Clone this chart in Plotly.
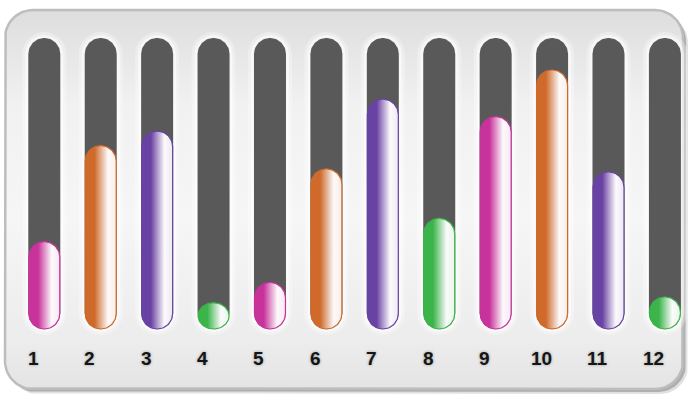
import numpy as np
import plotly.graph_objects as go

# ---- data -------------------------------------------------------------
categories = ["1", "2", "3", "4", "5", "6", "7", "8", "9", "10", "11", "12"]
values = [30, 63, 68, 9, 16, 55, 79, 38, 73, 89, 54, 11]   # percent of full track
max_value = 100
palette = ["#C8329B", "#CF6A2B", "#6943A3", "#3BB44A"]      # cycles over the bars

# ---- layout geometry (pixels) ----------------------------------------
W, H = 691, 394
X0, STEP = 44.3, 56.42         # centre of first slot, slot pitch
BASE_PX, TOP_PX = 329.0, 38.0  # value 0 and value max_value
HALF_W = 16.0                  # half width of track / bar
PPU = (BASE_PX - TOP_PX) / max_value

xr0 = 1 - X0 / STEP
xr1 = xr0 + W / STEP
yr0 = -(H - BASE_PX) / PPU
yr1 = BASE_PX / PPU


def px2x(p):
    return xr0 + p / STEP


def py2y(p):
    return yr1 - p / PPU


def stadium(cx, y0, y1, half_px, n=40):
    """Closed outline of a vertical pill from y0 to y1 (data units)."""
    rx = half_px / STEP
    ry_full = half_px / PPU
    ry = min(ry_full, (y1 - y0) / 2)
    t_top = np.linspace(0, np.pi, n)
    t_bot = np.linspace(np.pi, 2 * np.pi, n)
    xs = np.concatenate([cx + rx * np.cos(t_top), cx + rx * np.cos(t_bot)])
    ys = np.concatenate([y1 - ry + ry * np.sin(t_top), y0 + ry + ry * np.sin(t_bot)])
    return np.append(xs, xs[0]), np.append(ys, ys[0])


def round_rect(x0p, y0p, x1p, y1p, r, n=16):
    """Rounded rectangle given in pixels, returned in data units."""
    pts = []
    corners = [(x1p - r, y0p + r, -np.pi / 2, 0),
               (x1p - r, y1p - r, 0, np.pi / 2),
               (x0p + r, y1p - r, np.pi / 2, np.pi),
               (x0p + r, y0p + r, np.pi, 1.5 * np.pi)]
    for cxp, cyp, a0, a1 in corners:
        for a in np.linspace(a0, a1, n):
            pts.append((cxp + r * np.cos(a), cyp + r * np.sin(a)))
    pts.append(pts[0])
    xs = [px2x(p[0]) for p in pts]
    ys = [py2y(p[1]) for p in pts]
    return xs, ys


def mix(hex_color, other, t):
    a = np.array([int(hex_color[i:i + 2], 16) for i in (1, 3, 5)], float)
    b = np.array(other, float)
    c = a * (1 - t) + b * t
    return "rgb(%d,%d,%d)" % tuple(np.round(c))


fig = go.Figure()

# ---- panel ------------------------------------------------------------
for off, alpha in [(5, 0.12), (3, 0.22)]:
    sx, sy = round_rect(5 + off, 10 + off, 683 + off, 389 + off, 28)
    fig.add_trace(go.Scatter(x=sx, y=sy, mode="lines", fill="toself",
                             fillcolor="rgba(0,0,0,%.2f)" % alpha,
                             line=dict(width=0), hoverinfo="skip"))

px_, py_ = round_rect(5, 10, 683, 389, 28)
fig.add_trace(go.Scatter(
    x=px_, y=py_, mode="lines", fill="toself",
    fillgradient=dict(type="vertical",
                      colorscale=[[0, "#E4E4E4"], [0.12, "#ECECEC"],
                                  [0.45, "#F6F6F6"], [0.75, "#F1F1F1"],
                                  [0.93, "#E3E3E3"], [1, "#DDDDDD"]]),
    line=dict(color="#BDBDBD", width=2.5), hoverinfo="skip"))

# ---- tracks -----------------------------------------------------------
for i, _ in enumerate(categories):
    cx = i + 1
    # soft light halo around each track
    for grow, alpha in [(6, 0.3), (3, 0.55)]:
        hx, hy = stadium(cx, 0 - grow / PPU, max_value + grow / PPU, HALF_W + grow)
        fig.add_trace(go.Scatter(x=hx, y=hy, mode="lines", fill="toself",
                                 fillcolor="rgba(255,255,255,%.2f)" % alpha,
                                 line=dict(width=0), hoverinfo="skip"))
    tx, ty = stadium(cx, 0, max_value, HALF_W)
    fig.add_trace(go.Scatter(x=tx, y=ty, mode="lines", fill="toself",
                             fillcolor="#595959",
                             line=dict(width=0), hoverinfo="skip"))

# ---- bars -------------------------------------------------------------
for i, (cat, v) in enumerate(zip(categories, values)):
    color = palette[i % len(palette)]
    bx, by = stadium(i + 1, 0, v, HALF_W - 0.5)
    fig.add_trace(go.Scatter(
        x=bx, y=by, mode="lines", fill="toself", name=cat,
        fillgradient=dict(type="horizontal",
                          colorscale=[[0, color], [0.3, color],
                                      [0.74, "rgb(252,250,251)"],
                                      [1, mix(color, (255, 255, 255), 0.88)]]),
        line=dict(color=color, width=1.2), hoverinfo="skip"))

# ---- category labels --------------------------------------------------
for i, cat in enumerate(categories):
    fig.add_annotation(
        x=i + 1 - 11 / STEP, y=py2y(358), text=cat, showarrow=False,
        font=dict(family="Liberation Sans, Arial, sans-serif", size=19,
                  color="#151515", weight="bold",
                  shadow="0px 0px 3px rgba(0,0,0,0.35)"),
        xanchor="center", yanchor="middle")

fig.update_layout(
    width=W, height=H, margin=dict(l=0, r=0, t=0, b=0),
    paper_bgcolor="white", plot_bgcolor="rgba(0,0,0,0)",
    showlegend=False,
    xaxis=dict(range=[xr0, xr1], visible=False, fixedrange=True),
    yaxis=dict(range=[yr0, yr1], visible=False, fixedrange=True),
)

fig.write_html("out.html")
